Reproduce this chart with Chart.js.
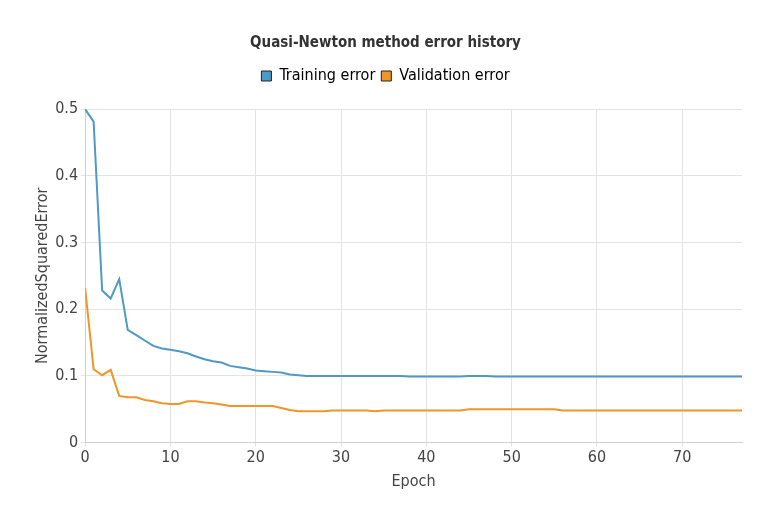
<!DOCTYPE html>
<html>
<head>
<meta charset="utf-8">
<script src="https://cdn.jsdelivr.net/npm/chart.js@4.4.1/dist/chart.umd.min.js"></script>
<style>
html,body{margin:0;padding:0;background:#fff;}
#wrap{width:780px;height:520px;}
</style>
</head>
<body>
<div id="wrap"><canvas id="c" width="780" height="520"></canvas></div>
<script>
const epochs = [0,1,2,3,4,5,6,7,8,9,10,11,12,13,14,15,16,17,18,19,20,21,22,23,24,25,26,27,28,29,30,31,32,33,34,35,36,37,38,39,40,41,42,43,44,45,46,47,48,49,50,51,52,53,54,55,56,57,58,59,60,61,62,63,64,65,66,67,68,69,70,71,72,73,74,75,76,77];
const trainingError = [0.500,0.481,0.228,0.216,0.245,0.169,0.161,0.153,0.145,0.141,0.139,0.137,0.134,0.129,0.125,0.122,0.120,0.115,0.113,0.111,0.108,0.107,0.106,0.105,0.102,0.101,0.100,0.100,0.100,0.100,0.100,0.100,0.100,0.100,0.100,0.100,0.100,0.100,0.099,0.099,0.099,0.099,0.099,0.099,0.099,0.100,0.100,0.100,0.099,0.099,0.099,0.099,0.099,0.099,0.099,0.099,0.099,0.099,0.099,0.099,0.099,0.099,0.099,0.099,0.099,0.099,0.099,0.099,0.099,0.099,0.099,0.099,0.099,0.099,0.099,0.099,0.099,0.099];
const validationError = [0.232,0.110,0.101,0.109,0.070,0.068,0.068,0.064,0.062,0.059,0.058,0.058,0.062,0.062,0.060,0.059,0.057,0.055,0.055,0.055,0.055,0.055,0.055,0.052,0.049,0.047,0.047,0.047,0.047,0.048,0.048,0.048,0.048,0.048,0.047,0.048,0.048,0.048,0.048,0.048,0.048,0.048,0.048,0.048,0.048,0.050,0.050,0.050,0.050,0.050,0.050,0.050,0.050,0.050,0.050,0.050,0.048,0.048,0.048,0.048,0.048,0.048,0.048,0.048,0.048,0.048,0.048,0.048,0.048,0.048,0.048,0.048,0.048,0.048,0.048,0.048,0.048,0.048];
const seriesNames = ['Training error','Validation error'];
const seriesColors = ['#4f9ac4','#ee9628'];
const yTicks = [0,0.1,0.2,0.3,0.4,0.5];
const xTicks = [0,10,20,30,40,50,60,70];

const FONT = "'DejaVu Sans Condensed', 'DejaVu Sans', sans-serif";
const toXY = arr => arr.map((v,i)=>({x:epochs[i], y:v}));

const legendSpacer = {
  id: 'legendSpacer',
  afterInit(chart) {
    const lg = chart.legend;
    if (lg && !lg._spaced) {
      const orig = lg.fit;
      lg.fit = function() { orig.call(this); this.height += 15; };
      lg._spaced = true;
    }
  }
};

new Chart(document.getElementById('c'), {
  type: 'line',
  data: {
    datasets: [
      {label: seriesNames[0], data: toXY(trainingError), borderColor: seriesColors[0], backgroundColor: seriesColors[0], borderWidth: 2, pointRadius: 0, tension: 0, fill: false},
      {label: seriesNames[1], data: toXY(validationError), borderColor: seriesColors[1], backgroundColor: seriesColors[1], borderWidth: 2, pointRadius: 0, tension: 0, fill: false}
    ]
  },
  plugins: [legendSpacer],
  options: {
    responsive: false,
    animation: false,
    devicePixelRatio: 1,
    layout: {padding: {left: 29, right: 38, top: 20, bottom: 25}},
    plugins: {
      title: {display: true, text: 'Quasi-Newton method error history', color: '#333', font: {family: FONT, size: 15, weight: 'bold'}, padding: {top: 14, bottom: 10}},
      legend: {
        display: true,
        labels: {
          color: '#444', font: {family: FONT, size: 16}, boxWidth: 10, boxHeight: 10, padding: 6,
          generateLabels: chart => chart.data.datasets.map((d,i)=>({text: d.label, fillStyle: d.borderColor, strokeStyle: '#222', lineWidth: 1, datasetIndex: i, hidden: false}))
        }
      },
      tooltip: {enabled: false}
    },
    scales: {
      x: {
        type: 'linear', min: 0, max: 77,
        afterBuildTicks: axis => { axis.ticks = xTicks.map(v=>({value:v})); },
        ticks: {color: '#444', font: {family: FONT, size: 16}, padding: 2},
        grid: {color: '#e3e3e3', drawTicks: true, tickLength: 4},
        border: {color: '#d0d0d0'},
        title: {display: true, text: 'Epoch', color: '#444', font: {family: FONT, size: 16}, padding: {top: 2}}
      },
      y: {
        min: 0, max: 0.5,
        afterBuildTicks: axis => { axis.ticks = yTicks.map(v=>({value:v})); },
        ticks: {color: '#444', font: {family: FONT, size: 16}, padding: 3},
        grid: {color: '#e3e3e3', tickLength: 4},
        border: {color: '#d0d0d0'},
        title: {display: true, text: 'NormalizedSquaredError', color: '#444', font: {family: FONT, size: 16}, padding: {bottom: 0}}
      }
    }
  }
});
</script>
</body>
</html>
